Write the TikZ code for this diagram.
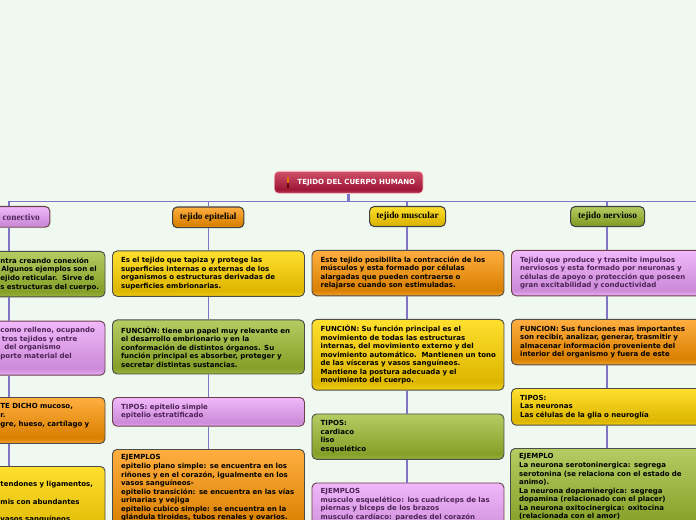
\documentclass[tikz,border=0pt]{standalone}
\usepackage{fontspec}
\setmainfont{DejaVu Sans}
\newfontfamily\headfont{Liberation Serif}
\definecolor{cYt}{HTML}{FFE02E}\definecolor{cYm}{HTML}{DDB600}\definecolor{cYb}{HTML}{F0CC10}
\definecolor{cOt}{HTML}{FFAE40}\definecolor{cOm}{HTML}{D98000}\definecolor{cOb}{HTML}{F0A030}
\definecolor{cGt}{HTML}{B4CC62}\definecolor{cGm}{HTML}{85A028}\definecolor{cGb}{HTML}{98B040}
\definecolor{cPt}{HTML}{F0B8FA}\definecolor{cPm}{HTML}{CC8AD8}\definecolor{cPb}{HTML}{EEB0F6}
\definecolor{cRt}{HTML}{CF5068}\definecolor{cRm}{HTML}{A01838}\definecolor{cRb}{HTML}{B83050}
\definecolor{bgc}{HTML}{F0F9EF}
\definecolor{linkc}{HTML}{8074C8}
\definecolor{purpletext}{HTML}{4E2458}
\pgfdeclareverticalshading{glyellow}{100bp}{color(0bp)=(cYb);color(25bp)=(cYb);color(31bp)=(cYm);color(75bp)=(cYt);color(100bp)=(cYt)}
\pgfdeclareverticalshading{glorange}{100bp}{color(0bp)=(cOb);color(25bp)=(cOb);color(31bp)=(cOm);color(75bp)=(cOt);color(100bp)=(cOt)}
\pgfdeclareverticalshading{glgreen}{100bp}{color(0bp)=(cGb);color(25bp)=(cGb);color(31bp)=(cGm);color(75bp)=(cGt);color(100bp)=(cGt)}
\pgfdeclareverticalshading{glpurple}{100bp}{color(0bp)=(cPb);color(25bp)=(cPb);color(31bp)=(cPm);color(75bp)=(cPt);color(100bp)=(cPt)}
\pgfdeclareverticalshading{glred}{100bp}{color(0bp)=(cRb);color(25bp)=(cRb);color(35bp)=(cRm);color(75bp)=(cRt);color(100bp)=(cRt)}
\tikzset{
  x=0.75pt,y=-0.75pt,
  card/.style={rounded corners=3.5pt,line width=0.7pt,anchor=north west,inner xsep=6.5pt,inner ysep=0pt,
    align=left,font=\fontsize{5.25}{6.4}\selectfont\bfseries,text=black},
  cardy/.style={card,shading=glyellow,draw=black!70},
  cardo/.style={card,shading=glorange,draw=black!70},
  cardg/.style={card,shading=glgreen,draw=black!70},
  cardp/.style={card,shading=glpurple,draw=purple!30!black!75,text=purpletext},
  head/.style={rounded corners=3.5pt,line width=0.8pt,anchor=north west,inner sep=0pt,align=center,
    font=\headfont\fontsize{7}{8}\selectfont\bfseries,text=black},
  link/.style={draw=linkc,line width=1.3pt},
}
\begin{document}
\begin{tikzpicture}
\useasboundingbox (0,0) rectangle (696,520);
\clip (0,0) rectangle (696,520);
\fill[bgc] (0,0) rectangle (696,520);
\coordinate (tL) at (9,201.5);
\coordinate (tR) at (696,201.5);
\coordinate (t1) at (9,201.5);
\coordinate (t2) at (208.5,201.5);
\coordinate (t3) at (407,201.5);
\coordinate (t4) at (607,201.5);
% root
\node[rounded corners=3pt,shading=glred,draw=white!80!red,line width=0.5pt,anchor=north west,minimum width=111.5pt,minimum height=16.5pt,inner sep=0pt,
  text=white,font=\fontsize{5.3}{6.4}\selectfont\bfseries] (root) at (274,171) {\hspace*{11.5pt}TEJIDO DEL CUERPO HUMANO};
\fill[orange!90!black] (288,178) circle (0.9pt);
\fill[orange!90!black] (286.6,179.5) rectangle (289.4,183.5);
\fill[black!60!red] (286.8,183.5) rectangle (289.2,188);
% headers
\node[head,shading=glpurple,draw=purple!30!black!75,text=purpletext,minimum width=43pt,minimum height=15.5pt] (h1) at (-8,206) {conectivo};
\node[head,shading=glorange,draw=black!75,minimum width=53.5pt,minimum height=15.5pt] (h2) at (172,206.5) {tejido epitelial};
\node[head,shading=glyellow,draw=black!75,minimum width=57pt,minimum height=15pt] (h3) at (369,206) {tejido muscular};
\node[head,shading=glgreen,draw=black!75,minimum width=55.5pt,minimum height=15pt] (h4) at (570,206) {tejido nervioso};
% column 1
\node[cardg,inner xsep=6pt,text width=72.4pt,minimum height=34pt] (a1) at (-8,251) {ntra creando conexión\\\hspace*{0.6pt}Algunos ejemplos son el\\ejido reticular.\ \ Sirve de\\\mbox{s estructuras del cuerpo.}};
\node[cardp,inner xsep=6pt,text width=72.4pt,minimum height=40.5pt] (a2) at (-8,320.7) {como relleno, ocupando\\\hspace*{1pt}tros tejidos y entre\\\hspace*{3pt}del organismo\\porte material del\\\strut};
\node[cardo,inner xsep=6pt,text width=72.4pt,minimum height=34.5pt] (a3) at (-8,397) {TE DICHO mucoso,\\r.\\gre, hueso, cartílago y\\\strut};
\node[cardy,inner xsep=6pt,inner ysep=4.5pt,text width=72.4pt] (a4) at (-8,466) {\strut\\tendones y ligamentos,\\\strut\\mis con abundantes\\\strut\\vasos sanguíneos\\\strut\\\strut};
% column 2
\node[cardy,text width=131pt,minimum height=34pt] (b1) at (112,250.5) {Es el tejido que tapiza y protege las\\superficies internas o externas de los\\organismos o estructuras derivadas de\\superficies embrionarias.};
\node[cardg,text width=131pt,minimum height=40.5pt] (b2) at (112,319.5) {FUNCIÓN: tiene un papel muy relevante en\\el desarrollo embrionario y en la\\conformación de distintos órganos. Su\\función principal es absorber, proteger y\\secretar distintas sustancias.};
\node[cardp,text width=131pt,minimum height=21.5pt] (b3) at (112,397) {TIPOS: epitelio simple\\epitelio estratificado};
\node[cardo,inner ysep=4pt,text width=131pt] (b4) at (112,449) {EJEMPLOS\\epitelio plano simple: se encuentra en los\\riñones y en el corazón, igualmente en los\\vasos sanguíneos-\\epitelio transición: se encuentra en las vías\\urinarias y vejiga\\epitelio cubico simple: se encuentra en la\\glándula tiroides, tubos renales y ovarios.\\\strut};
% column 3
\node[cardo,text width=131pt,minimum height=34pt] (c1) at (311.5,250) {Este tejido posibilita la contracción de los\\músculos y esta formado por células\\alargadas que pueden contraerse o\\relajarse cuando son estimuladas.};
\node[cardy,text width=131pt,minimum height=53pt] (c2) at (311.5,319) {FUNCIÓN: Su función principal es el\\movimiento de todas las estructuras\\internas, del movimiento externo y del\\\mbox{movimiento automático.\ \ Mantienen un tono}\\de las vísceras y vasos sanguíneos.\\Mantiene la postura adecuada y el\\movimiento del cuerpo.};
\node[cardg,text width=131pt,minimum height=34pt] (c3) at (311.5,413.5) {TIPOS:\\cardiaco\\liso\\esquelético};
\node[cardp,inner ysep=4pt,text width=131pt] (c4) at (311.5,482.5) {EJEMPLOS\\musculo esquelético: los cuadriceps de las\\piernas y biceps de los brazos\\musculo cardíaco: paredes del corazón\\\strut\\\strut};
% column 4
\node[cardp,text width=160pt,minimum height=34pt] (d1) at (511,250) {Tejido que produce y trasmite impulsos\\nerviosos y esta formado por neuronas y\\células de apoyo o protección que poseen\\gran excitabilidad y conductividad};
\node[cardo,text width=160pt,minimum height=34pt] (d2) at (511,319) {FUNCION: Sus funciones mas importantes\\son recibir, analizar, generar, trasmitir y\\almacenar información proveniente del\\interior del organismo y fuera de este};
\node[cardy,text width=160pt,minimum height=27.5pt] (d3) at (511,388) {TIPOS:\\Las neuronas\\Las células de la glia o neuroglía};
\node[cardg,inner ysep=4pt,text width=160pt] (d4) at (510,448) {EJEMPLO\\La neurona serotoninergica: segrega\\serotonina (se relaciona con el estado de\\animo).\\La neurona dopaminergica: segrega\\dopamina (relacionado con el placer)\\La neurona oxitocinergica: oxitocina\\(relacionada con el amor)\\\strut};
% connectors
\draw[link,line width=1.9pt] (root.south) -- (root.south |- tL);
\draw[link] (tL) -- (tR);
\foreach \t/\h/\a/\b/\c/\d in {t1/h1/a1/a2/a3/a4,t2/h2/b1/b2/b3/b4,t3/h3/c1/c2/c3/c4,t4/h4/d1/d2/d3/d4}{
  \draw[link] (\t) -- (\t |- \h.north);
  \draw[link] (\t |- \h.south) -- (\t |- \a.north);
  \draw[link] (\t |- \a.south) -- (\t |- \b.north);
  \draw[link] (\t |- \b.south) -- (\t |- \c.north);
  \draw[link] (\t |- \c.south) -- (\t |- \d.north);
}
\end{tikzpicture}
\end{document}
